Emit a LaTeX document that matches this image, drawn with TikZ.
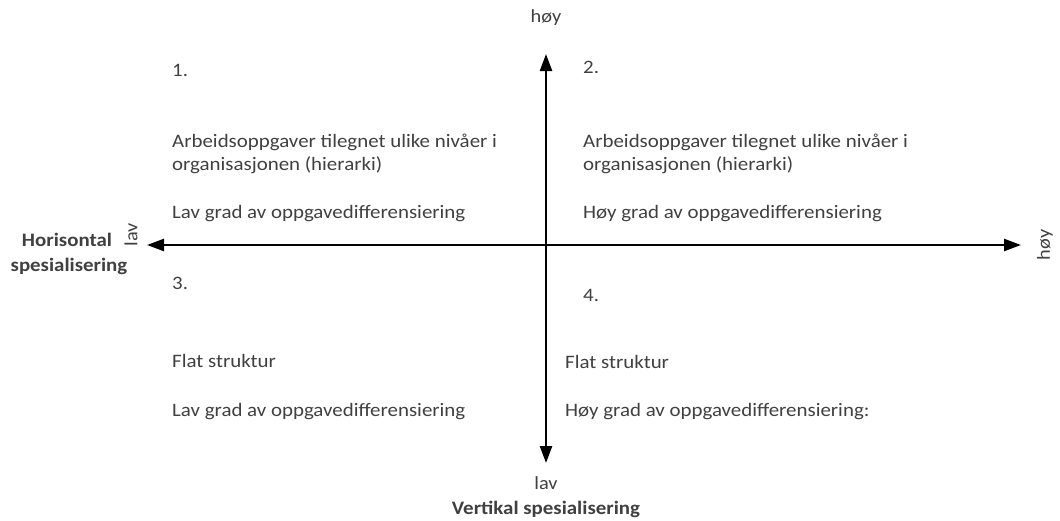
\documentclass[tikz,border=0pt]{standalone}
\usepackage{fontspec}
\setmainfont{Carlito}
\newfontfamily\bodyfont{Carlito}[FakeStretch=1.1]
\usetikzlibrary{arrows.meta}
\definecolor{txt}{HTML}{404040}
\begin{document}
\begin{tikzpicture}[x=1pt,y=-1pt,
  lbl/.style={anchor=base west,inner sep=0pt,text=txt,font=\bodyfont\fontsize{19}{23}\selectfont},
  axlbl/.style={inner sep=0pt,text=txt,font=\bodyfont\fontsize{18.5}{22}\selectfont},
  ttl/.style={anchor=base,inner sep=0pt,text=txt,font=\bodyfont\fontsize{19}{23}\selectfont\bfseries},
  axis/.style={line width=2.4pt,-{Triangle[length=17pt,width=12pt]}}]
\useasboundingbox (0,0) rectangle (1060,520);
\coordinate (c) at (546,245);
\coordinate (top) at (546,54);
\coordinate (bot) at (546,463);
\coordinate (lft) at (147,245);
\coordinate (rgt) at (1021,245);
\draw[axis] (c) -- (top);
\draw[axis] (c) -- (bot);
\draw[axis] (c) -- (lft);
\draw[axis] (c) -- (rgt);
\node[axlbl] (hoyT) at (546,18) {høy};
\node[axlbl] (lavB) at (546,483) {lav};
\node[ttl] (vert) at (546,514) {Vertikal spesialisering};
\node[ttl] (hor1) at (67,246) {Horisontal};
\node[ttl] (hor2) at (69,271) {spesialisering};
\node[axlbl,rotate=90] (lavL) at (131,235) {lav};
\node[axlbl,rotate=90] (hoyR) at (1045,245) {høy};
\node[lbl] (n1) at (172,76) {1.};
\node[lbl] (a1) at (172,147) {Arbeidsoppgaver tilegnet ulike nivåer i};
\node[lbl] (a1b) at (172,170) {organisasjonen (hierarki)};
\node[lbl] (l1) at (172,218) {Lav grad av oppgavedifferensiering};
\node[lbl] (n2) at (583,73) {2.};
\node[lbl] (a2) at (583,147) {Arbeidsoppgaver tilegnet ulike nivåer i};
\node[lbl] (a2b) at (583,170) {organisasjonen (hierarki)};
\node[lbl] (l2) at (583,218) {Høy grad av oppgavedifferensiering};
\node[lbl] (n3) at (172,289) {3.};
\node[lbl] (f3) at (172,367) {Flat struktur};
\node[lbl] (l3) at (172,416) {Lav grad av oppgavedifferensiering};
\node[lbl] (n4) at (583,301) {4.};
\node[lbl] (f4) at (565,368) {Flat struktur};
\node[lbl] (l4) at (565,416) {Høy grad av oppgavedifferensiering:};
\end{tikzpicture}
\end{document}
